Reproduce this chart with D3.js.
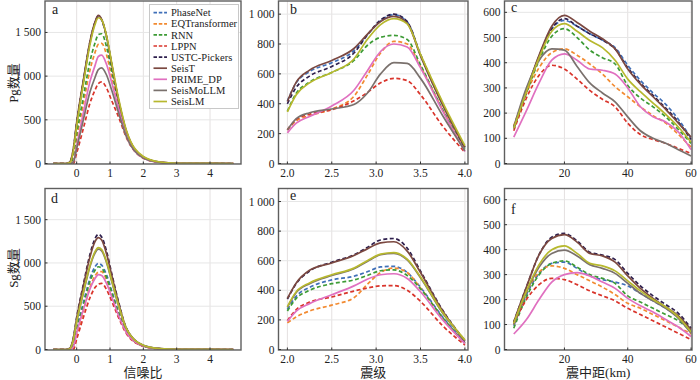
<!DOCTYPE html>
<html>
<head>
<meta charset="utf-8">
<script src="https://cdn.jsdelivr.net/npm/d3@7"></script>
<style>
  body { margin: 0; background: #fff; }
  svg { display: block; }
  text { font-family: "Liberation Serif", "Times New Roman", "Noto Sans CJK SC", serif; fill: #222; }
</style>
</head>
<body>
<svg id="chart" width="700" height="380"></svg>
<script>
// --- models (legend order) ---
const models = ['PhaseNet', 'EQTransformer', 'RNN', 'LPPN', 'USTC-Pickers', 'SeisT', 'PRIME_DP', 'SeisMoLLM', 'SeisLM'];
const colors = ['#3f6fb8', '#f28a30', '#3d9b35', '#d9342b', '#2e1f4d', '#7b4840', '#e070c0', '#7a716d', '#b7b82e'];
const dashed = [true, true, true, true, true, false, false, false, false];

// --- x grids ---
const snrX = [-0.7, -0.3, -0.2, -0.1, 0, 0.2, 0.4, 0.55, 0.65, 0.75, 0.9, 1.05, 1.25, 1.5, 2.0, 2.5, 3.0, 4.7];
const magX = [2.0, 2.1, 2.25, 2.5, 2.75, 2.9, 3.05, 3.2, 3.35, 3.5, 3.75, 4.0];
const distX = [4, 8, 12, 16, 20, 24, 28, 32, 36, 40, 44, 48, 52, 56, 60];

// --- a: Pg vs SNR ---
const pgSnr = [
  [0, 0, 10, 150, 450, 930, 1380, 1610, 1680, 1640, 1440, 1130, 730, 350, 70, 14, 3, 0],
  [0, 0, 0, 50, 290, 680, 1070, 1270, 1365, 1375, 1240, 990, 690, 330, 68, 13, 2, 0],
  [0, 0, 0, 80, 340, 760, 1170, 1380, 1475, 1485, 1330, 1060, 720, 340, 70, 14, 3, 0],
  [0, 0, 0, 0, 120, 400, 690, 840, 915, 935, 860, 720, 540, 290, 60, 12, 2, 0],
  [0, 0, 15, 160, 460, 940, 1390, 1615, 1690, 1645, 1445, 1135, 735, 355, 72, 14, 3, 0],
  [0, 0, 20, 170, 470, 950, 1400, 1620, 1695, 1650, 1450, 1140, 740, 360, 75, 15, 3, 0],
  [0, 0, 0, 20, 200, 580, 940, 1120, 1225, 1240, 1130, 930, 640, 310, 64, 12, 2, 0],
  [0, 0, 0, 15, 170, 500, 820, 985, 1075, 1095, 1010, 840, 590, 300, 62, 12, 2, 0],
  [0, 0, 10, 140, 430, 910, 1360, 1590, 1668, 1645, 1455, 1155, 760, 370, 80, 17, 3, 0]
];
// --- b: Pg vs magnitude ---
const pgMag = [
  [420, 540, 615, 675, 755, 860, 955, 995, 948, 725, 395, 108],
  [225, 285, 320, 365, 450, 590, 740, 818, 800, 650, 360, 95],
  [350, 470, 545, 610, 690, 790, 845, 858, 830, 660, 360, 100],
  [225, 295, 330, 360, 420, 475, 540, 570, 555, 460, 250, 75],
  [400, 510, 585, 650, 740, 860, 960, 1000, 950, 730, 400, 105],
  [415, 545, 625, 690, 770, 865, 950, 985, 940, 720, 390, 110],
  [205, 270, 315, 385, 490, 620, 750, 800, 780, 640, 350, 80],
  [225, 300, 340, 365, 395, 470, 600, 675, 670, 570, 320, 85],
  [345, 460, 540, 610, 700, 830, 930, 970, 935, 730, 410, 120]
];
// --- c: Pg vs distance ---
const pgDist = [
  [145, 290, 425, 535, 568, 545, 515, 490, 460, 390, 330, 280, 235, 175, 100],
  [150, 280, 380, 440, 455, 430, 395, 355, 305, 265, 225, 190, 160, 115, 65],
  [140, 280, 410, 505, 535, 500, 450, 420, 395, 310, 260, 225, 185, 135, 80],
  [130, 260, 350, 390, 375, 335, 290, 255, 225, 160, 115, 95, 80, 60, 40],
  [140, 285, 425, 535, 575, 545, 515, 490, 455, 380, 320, 270, 220, 165, 95],
  [140, 290, 430, 545, 588, 560, 525, 495, 455, 375, 315, 265, 215, 160, 105],
  [105, 210, 320, 410, 435, 410, 375, 370, 355, 300, 225, 185, 165, 125, 55],
  [145, 300, 410, 455, 450, 385, 320, 280, 245, 185, 130, 100, 80, 55, 30],
  [140, 285, 420, 525, 555, 525, 488, 460, 410, 335, 285, 240, 195, 145, 85]
];
// --- d: Sg vs SNR ---
const sgSnr = [
  [0, 0, 0, 60, 240, 540, 820, 955, 995, 975, 860, 680, 440, 200, 40, 8, 2, 0],
  [0, 0, 0, 0, 150, 440, 720, 850, 895, 900, 800, 640, 420, 195, 40, 8, 2, 0],
  [0, 0, 0, 50, 220, 510, 785, 915, 956, 940, 830, 660, 430, 200, 40, 8, 2, 0],
  [0, 0, 0, 0, 120, 370, 600, 715, 755, 764, 690, 560, 375, 180, 38, 8, 2, 0],
  [0, 0, 15, 130, 370, 750, 1100, 1280, 1330, 1300, 1130, 880, 560, 240, 45, 9, 2, 0],
  [0, 0, 15, 130, 360, 730, 1070, 1245, 1292, 1265, 1100, 860, 550, 235, 45, 9, 2, 0],
  [0, 0, 0, 30, 190, 460, 700, 820, 865, 855, 760, 610, 400, 190, 40, 8, 2, 0],
  [0, 0, 10, 105, 315, 650, 960, 1115, 1160, 1140, 1000, 790, 515, 230, 48, 10, 2, 0],
  [0, 0, 10, 110, 320, 660, 970, 1130, 1176, 1155, 1010, 800, 520, 235, 50, 10, 2, 0]
];
// --- e: Sg vs magnitude ---
const sgMag = [
  [270, 360, 420, 470, 495, 525, 558, 562, 520, 420, 220, 45],
  [180, 220, 260, 300, 350, 440, 520, 550, 520, 415, 210, 40],
  [260, 345, 400, 445, 470, 500, 532, 538, 500, 410, 215, 42],
  [195, 270, 320, 355, 395, 415, 430, 432, 400, 325, 160, 30],
  [340, 445, 530, 590, 640, 690, 740, 750, 685, 530, 265, 60],
  [345, 450, 535, 585, 635, 680, 720, 728, 665, 520, 260, 55],
  [190, 260, 310, 370, 430, 475, 505, 512, 480, 390, 200, 40],
  [285, 385, 445, 500, 545, 595, 640, 650, 605, 485, 245, 62],
  [290, 390, 450, 505, 550, 600, 645, 655, 610, 490, 250, 65]
];
// --- f: Sg vs distance ---
const sgDist = [
  [95, 220, 305, 345, 350, 325, 295, 280, 270, 255, 225, 195, 165, 130, 70],
  [100, 230, 310, 335, 325, 300, 275, 250, 220, 185, 165, 140, 115, 90, 62],
  [85, 210, 300, 345, 355, 330, 300, 285, 265, 215, 190, 165, 140, 115, 75],
  [105, 200, 260, 285, 280, 260, 235, 215, 195, 165, 140, 115, 90, 65, 40],
  [110, 250, 380, 450, 465, 435, 390, 378, 360, 305, 255, 215, 180, 145, 85],
  [110, 250, 380, 445, 460, 430, 385, 375, 350, 295, 245, 205, 170, 135, 80],
  [62, 120, 200, 270, 300, 308, 295, 270, 245, 205, 175, 150, 120, 90, 52],
  [100, 230, 330, 385, 398, 375, 340, 325, 305, 265, 225, 195, 165, 125, 65],
  [105, 235, 340, 400, 415, 385, 345, 335, 315, 275, 235, 200, 170, 130, 70]
];

// --- tick labels ---
const snrTicks = [0, 1, 2, 3, 4];
const magTicks = [2.0, 2.5, 3.0, 3.5, 4.0];
const distTicks = [20, 40, 60];
const snrYTicks = [0, 500, 1000, 1500];
const magYTicks = [0, 200, 400, 600, 800, 1000];
const distYTicks = [0, 100, 200, 300, 400, 500, 600];

const svg = d3.select('#chart');

// layout: columns and rows in pixels
const cols = [
  { x0: 45, x1: 241, dom: [-0.95, 4.93], xs: snrX, xt: snrTicks, yt: snrYTicks, yMax: 1860, fmt: d3.format('d') },
  { x0: 278.5, x1: 468, dom: [1.9, 4.035], xs: magX, xt: magTicks, yt: magYTicks, yMax: 1088, fmt: d3.format('.1f') },
  { x0: 504.5, x1: 692, dom: [1.07, 60.3], xs: distX, xt: distTicks, yt: distYTicks, yMax: 645, fmt: d3.format('d') }
];
const rows = [
  { y0: 1, y1: 164, zero: 163.5 },
  { y0: 188.5, y1: 350, zero: 349.5 }
];
const panelData = [[pgSnr, pgMag, pgDist], [sgSnr, sgMag, sgDist]];
const letters = [['a', 'b', 'c'], ['d', 'e', 'f']];
const letterPos = [[[52, 13.5], [290, 13.5], [511, 12]], [[51, 203], [290, 200], [511, 214]]];
const yFmt = v => d3.format(',')(v).replace(/,/g, ' ');

rows.forEach((row, ri) => {
  cols.forEach((col, ci) => {
    const x = d3.scaleLinear().domain(col.dom).range([col.x0, col.x1]);
    const y = d3.scaleLinear().domain([0, col.yMax]).range([row.zero, row.y0]);
    const g = svg.append('g');
    const clipId = `clip-${ri}-${ci}`;
    g.append('clipPath').attr('id', clipId)
      .append('rect').attr('x', col.x0).attr('y', row.y0).attr('width', col.x1 - col.x0).attr('height', row.y1 - row.y0);

    // grid
    g.selectAll('.vg').data(col.xt).enter().append('line')
      .attr('x1', d => x(d)).attr('x2', d => x(d)).attr('y1', row.y0).attr('y2', row.y1)
      .attr('stroke', '#e4e0e0').attr('stroke-width', 1);
    g.selectAll('.hg').data(col.yt).enter().append('line')
      .attr('x1', col.x0).attr('x2', col.x1).attr('y1', d => y(d)).attr('y2', d => y(d))
      .attr('stroke', '#e6e6e6').attr('stroke-width', 1);

    // curves
    const line = d3.line().x((d, i) => x(col.xs[i])).y(d => y(d)).curve(d3.curveMonotoneX);
    const cg = g.append('g').attr('clip-path', `url(#${clipId})`);
    panelData[ri][ci].forEach((vals, k) => {
      cg.append('path').datum(vals)
        .attr('d', line)
        .attr('fill', 'none')
        .attr('stroke', colors[k])
        .attr('stroke-width', 1.7)
        .attr('stroke-dasharray', dashed[k] ? '4,2.5' : null);
    });

    // frame
    g.append('rect').attr('x', col.x0).attr('y', row.y0)
      .attr('width', col.x1 - col.x0).attr('height', row.y1 - row.y0)
      .attr('fill', 'none').attr('stroke', '#5e5e5e').attr('stroke-width', 1.4);

    // ticks
    g.selectAll('.xt').data(col.xt).enter().append('line')
      .attr('x1', d => x(d)).attr('x2', d => x(d)).attr('y1', row.y1).attr('y2', row.y1 - 2.5)
      .attr('stroke', '#333');
    g.selectAll('.yt').data(col.yt).enter().append('line')
      .attr('x1', col.x0).attr('x2', col.x0 + 2.5).attr('y1', d => y(d)).attr('y2', d => y(d))
      .attr('stroke', '#333');

    // tick labels
    g.selectAll('.xl').data(col.xt).enter().append('text')
      .attr('x', d => x(d)).attr('y', row.y1 + 13)
      .attr('text-anchor', 'middle').attr('font-size', 11.5)
      .text(d => col.fmt(d));
    g.selectAll('.yl').data(col.yt).enter().append('text')
      .attr('x', col.x0 - 4).attr('y', d => y(d) + 4)
      .attr('text-anchor', 'end').attr('font-size', 11.5)
      .text(d => yFmt(d));

    // panel letter
    g.append('text').attr('x', letterPos[ri][ci][0]).attr('y', letterPos[ri][ci][1])
      .attr('font-size', 14).text(letters[ri][ci]);
  });
});

// axis titles
svg.append('text').attr('transform', 'translate(18,83) rotate(-90)')
  .attr('text-anchor', 'middle').attr('font-size', 13).text('Pg数量');
svg.append('text').attr('transform', 'translate(18,268) rotate(-90)')
  .attr('text-anchor', 'middle').attr('font-size', 13).text('Sg数量');
const xTitles = ['信噪比', '震级', '震中距(km)'];
xTitles.forEach((t, i) => {
  const c = cols[i];
  svg.append('text').attr('x', (c.x0 + c.x1) / 2).attr('y', 377)
    .attr('text-anchor', 'middle').attr('font-size', 13).text(t);
});

// legend
const lg = svg.append('g');
lg.append('rect').attr('x', 149.5).attr('y', 4.5).attr('width', 89).attr('height', 104)
  .attr('fill', '#fff').attr('stroke', '#c8c8c8').attr('stroke-width', 1);
models.forEach((m, k) => {
  const yy = 12.7 + k * 11.1;
  lg.append('line').attr('x1', 153.5).attr('x2', 167).attr('y1', yy).attr('y2', yy)
    .attr('stroke', colors[k]).attr('stroke-width', 1.7)
    .attr('stroke-dasharray', dashed[k] ? '3.5,1.8' : null);
  lg.append('text').attr('x', 171).attr('y', yy + 3.6).attr('font-size', 10.5).text(m);
});
</script>
</body>
</html>
